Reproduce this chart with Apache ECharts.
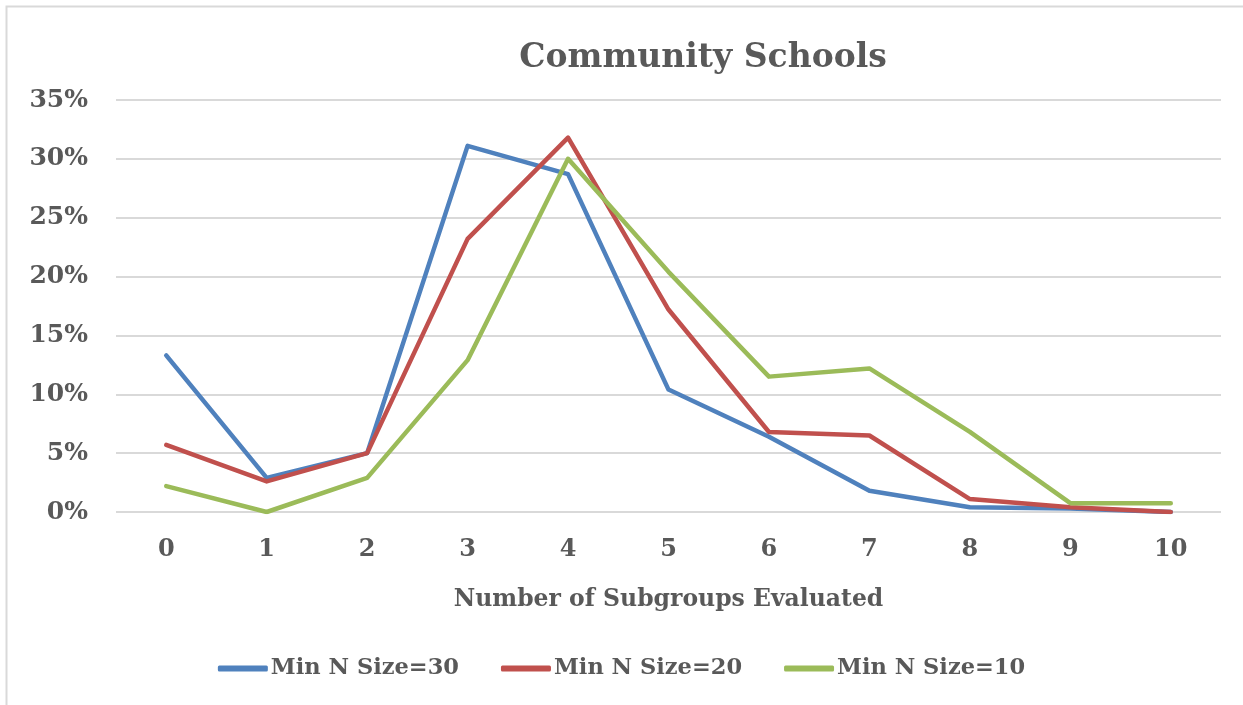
<!DOCTYPE html>
<html>
<head>
<meta charset="utf-8">
<script src="https://cdn.jsdelivr.net/npm/echarts@6/dist/echarts.min.js"></script>
<style>
html,body{margin:0;padding:0;background:#fff;}
#chart{width:1243px;height:705px;}
</style>
</head>
<body>
<div id="chart"></div>
<script>
const categories = ['0','1','2','3','4','5','6','7','8','9','10'];
const seriesNames = ['Min N Size=30','Min N Size=20','Min N Size=10'];
const minN30 = [13.3, 2.9, 5.0, 31.1, 28.7, 10.4, 6.4, 1.8, 0.4, 0.3, 0.0];
const minN20 = [5.7, 2.6, 5.0, 23.2, 31.8, 17.2, 6.8, 6.5, 1.1, 0.4, 0.0];
const minN10 = [2.2, 0.0, 2.9, 12.9, 30.0, 20.4, 11.5, 12.2, 6.8, 0.75, 0.75];
const colors = ['#4F81BD','#C0504D','#9BBB59'];
const FONT = 'DejaVu Serif';
const TXT = '#595959';

const chart = echarts.init(document.getElementById('chart'));
const data = [minN30, minN20, minN10];
chart.setOption({
  animation:false,
  color: colors,
  graphic:[{type:'rect', shape:{x:6.5,y:6.5,width:1400,height:900}, style:{fill:null, stroke:'#D9D9D9', lineWidth:2}, silent:true, z:-1}],
  title:{text:'Community Schools', left:698, textAlign:'center', top:37,
    textStyle:{fontFamily:FONT, fontWeight:'bold', fontSize:33, color:TXT}},
  grid:{left:116, right:22, top:100, bottom:193},
  xAxis:{type:'category', data:categories, boundaryGap:true,
    axisLine:{show:false}, axisTick:{show:false},
    axisLabel:{margin:26, fontFamily:FONT, fontWeight:'bold', fontSize:24, color:TXT},
    name:'Number of Subgroups Evaluated', nameLocation:'middle', nameGap:76,
    nameTextStyle:{fontFamily:FONT, fontWeight:'bold', fontSize:23.5, color:TXT}},
  yAxis:{type:'value', min:0, max:35, interval:5,
    axisLine:{show:false}, axisTick:{show:false},
    splitLine:{lineStyle:{color:'#D9D9D9', width:2}},
    axisLabel:{formatter:'{value}%', margin:28, fontFamily:FONT, fontWeight:'bold', fontSize:25, color:TXT}},
  legend:{bottom:20, left:'center', itemWidth:50, itemHeight:6, itemGap:42,
    icon:'roundRect',
    textStyle:{fontFamily:FONT, fontWeight:'bold', fontSize:22.5, color:TXT, padding:[0,0,0,-2]},
    data:seriesNames},
  series: seriesNames.map((n,i)=>({name:n, type:'line', data:data[i], symbol:'none',
    lineStyle:{width:4.5, color:colors[i], cap:'round', join:'round'}, itemStyle:{color:colors[i]}}))
});
</script>
</body>
</html>
